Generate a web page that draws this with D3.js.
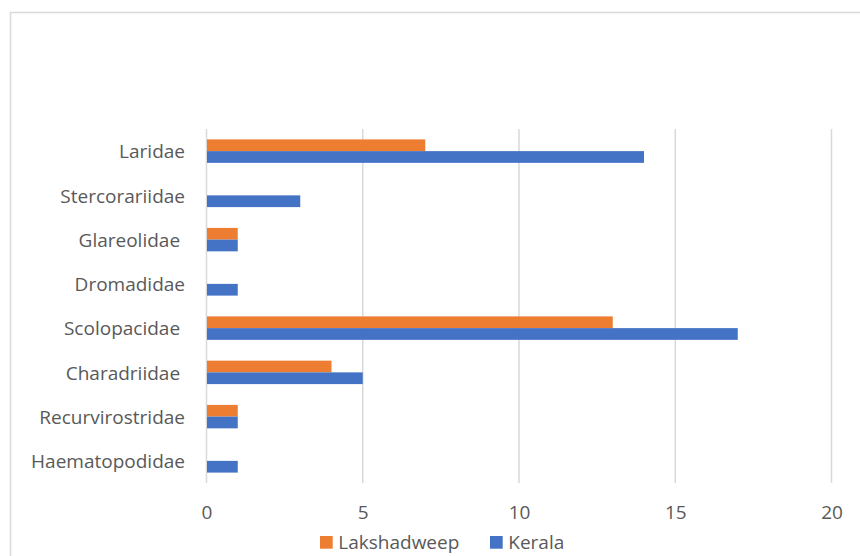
<!DOCTYPE html>
<html><head><meta charset="utf-8">
<script src="https://cdn.jsdelivr.net/npm/d3@7"></script>
<style>html,body{margin:0;padding:0;background:#fff;} text{white-space:pre;}</style>
</head><body>
<script>
const categories = ["Laridae","Stercorariidae","Glareolidae ","Dromadidae","Scolopacidae ","Charadriidae ","Recurvirostridae","Haematopodidae"];
const lakshadweep = [7,0,1,0,13,4,1,0];
const kerala = [14,3,1,1,17,5,1,1];
const seriesNames = ["Lakshadweep","Kerala"];
const seriesColors = ["#ED7D31","#4472C4"];
const xTicks = [0,5,10,15,20];

const W=860,H=556;
const svg=d3.select("body").append("svg").attr("width",W).attr("height",H)
  .style("font-family","'Open Sans', sans-serif");
svg.append("rect").attr("x",10.5).attr("y",12.5).attr("width",900).attr("height",700)
  .attr("fill","#fff").attr("stroke","#D9D9D9").attr("stroke-width",1.5);

const x=d3.scaleLinear().domain([0,20]).range([206.5,831.5]);
const y=d3.scaleBand().domain(categories).range([129,483]).paddingInner(0.47).paddingOuter(0.235);
const ySub=d3.scaleBand().domain(seriesNames).range([0,y.bandwidth()]);

// gridlines
svg.append("g").selectAll("line").data(xTicks).join("line")
  .attr("x1",d=>x(d)).attr("x2",d=>x(d)).attr("y1",129).attr("y2",483)
  .attr("stroke","#D9D9D9").attr("stroke-width",1.5);

// x axis labels
const xAxis=d3.axisBottom(x).tickValues(xTicks).tickSize(0).tickPadding(0).tickFormat(d3.format("d"));
const gx=svg.append("g").attr("transform","translate(0,505)").call(xAxis);
gx.select(".domain").remove();
gx.selectAll("text").attr("fill","#595959").attr("font-size","19px").attr("font-family","'Open Sans', sans-serif").attr("dy","0.71em");

// y axis labels
const yAxis=d3.axisLeft(y).tickSize(0).tickPadding(0);
const gy=svg.append("g").attr("transform","translate(185,0.5)").call(yAxis);
gy.select(".domain").remove();
gy.selectAll("text").attr("fill","#595959").attr("font-size","19px").attr("font-family","'Open Sans', sans-serif").attr("dy","0.35em");

// bars
const data=[lakshadweep,kerala];
data.forEach((vals,si)=>{
  svg.append("g").selectAll("rect").data(categories).join("rect")
    .attr("x",x(0)+0.5)
    .attr("y",c=>y(c)+ySub(seriesNames[si]))
    .attr("width",(c,i)=>Math.max(0,x(vals[i])-x(0)-0.5))
    .attr("height",ySub.bandwidth())
    .attr("fill",seriesColors[si]);
});

// legend
const legX=[320,490];
seriesNames.forEach((n,i)=>{
  svg.append("rect").attr("x",legX[i]).attr("y",536).attr("width",12.7).attr("height",12.7).attr("fill",seriesColors[i]);
  svg.append("text").attr("x",legX[i]+18.3).attr("y",549).attr("fill","#595959")
    .attr("font-size","19px").text(n);
});
</script>
</body></html>
